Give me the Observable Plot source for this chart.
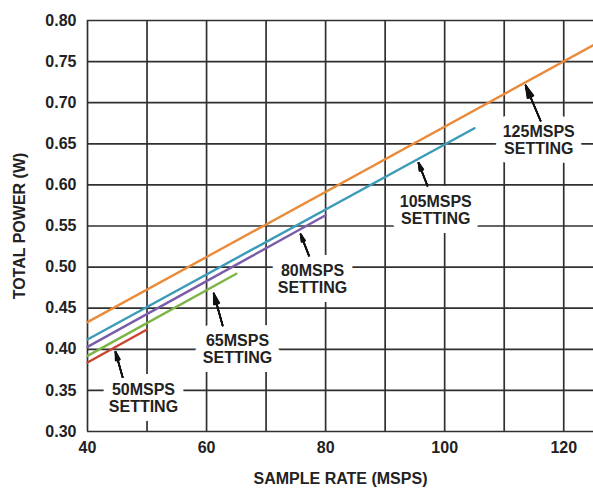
<!DOCTYPE html>
<html>
<head>
<meta charset="utf-8">
<script src="https://cdn.jsdelivr.net/npm/d3@7"></script>
<script src="https://cdn.jsdelivr.net/npm/@observablehq/plot@0.6"></script>
<style>
  html, body { margin: 0; padding: 0; background: #fff; }
  #chart { width: 593px; height: 489px; }
</style>
</head>
<body>
<div id="chart"></div>
<script>
// Series (sample rate in MSPS, total power in W)
const rate50 = [40, 50];
const power50 = [0.384, 0.424];
const rate65 = [40, 65];
const power65 = [0.392, 0.492];
const rate80 = [40, 80];
const power80 = [0.403, 0.563];
const rate105 = [40, 105];
const power105 = [0.412, 0.669];
const rate125 = [40, 125];
const power125 = [0.433, 0.770];

const settingNames = ["50MSPS", "65MSPS", "80MSPS", "105MSPS", "125MSPS"];
const settingColors = ["#c9432e", "#7db446", "#7a5da8", "#3b9bb8", "#e98b3a"];

// Annotation anchors (data units)
const labelX = [49.4, 65.2, 77.8, 98.5, 115.8];
const labelY = [0.341, 0.400, 0.485, 0.569, 0.654];
const arrowTailX = [45.9, 62.7, 77.2, 97.1, 116.1];
const arrowTailY = [0.366, 0.429, 0.514, 0.599, 0.678];
const arrowTipX = [44.7, 61.2, 75.8, 95.6, 113.6];
const arrowTipY = [0.397, 0.468, 0.540, 0.627, 0.721];

// Ticks
const xTickLabels = [40, 60, 80, 100, 120];
const xGrid = [40, 50, 60, 70, 80, 90, 100, 110, 120];
const yTicks = [0.30, 0.35, 0.40, 0.45, 0.50, 0.55, 0.60, 0.65, 0.70, 0.75, 0.80];

const rates = [rate50, rate65, rate80, rate105, rate125];
const powers = [power50, power65, power80, power105, power125];
const lineData = settingNames.flatMap((name, i) =>
  rates[i].map((r, j) => ({setting: name, rate: r, power: powers[i][j]})));

const notes = settingNames.map((name, i) => ({
  text: name + "\nSETTING",
  lx: labelX[i], ly: labelY[i],
  x1: arrowTailX[i], y1: arrowTailY[i], x2: arrowTipX[i], y2: arrowTipY[i]
}));

const font = "'Liberation Sans', Arial, Helvetica, sans-serif";
const gridColor = "#303030";

const arrowMarks = [6, 12, 18, 24, 30].map(a =>
  Plot.arrow(notes, {x1: "x1", y1: "y1", x2: "x2", y2: "y2",
    stroke: "#111", strokeWidth: 1.6, headAngle: a, headLength: 12}));

const textOpts = {x: "lx", y: "ly", text: "text", fontSize: 16, fontWeight: "bold",
  lineHeight: 1.05, textAnchor: "middle", lineAnchor: "middle"};

const chart = Plot.plot({
  width: 593,
  height: 489,
  marginLeft: 87,
  marginRight: 0,
  marginTop: 20,
  marginBottom: 58,
  style: {fontFamily: font, fontSize: "16px", fontWeight: "bold", color: "#222", background: "#fff", overflow: "visible"},
  x: {
    domain: [40, 125],
    ticks: xTickLabels,
    tickSize: 0,
    tickPadding: 10,
    label: "SAMPLE RATE (MSPS)",
    labelArrow: "none",
    labelAnchor: "center",
    labelOffset: 52
  },
  y: {
    domain: [0.30, 0.80],
    ticks: yTicks,
    tickFormat: d3.format(".2f"),
    tickSize: 0,
    tickPadding: 11,
    label: "TOTAL POWER (W)",
    labelArrow: "none",
    labelAnchor: "center",
    labelOffset: 74
  },
  color: {domain: settingNames, range: settingColors},
  marks: [
    Plot.ruleX(xGrid, {stroke: gridColor, strokeWidth: 1.7}),
    Plot.ruleY(yTicks, {stroke: gridColor, strokeWidth: 1.7}),
    Plot.line(lineData, {x: "rate", y: "power", z: "setting", stroke: "setting", strokeWidth: 2.4}),
    Plot.text(notes, {...textOpts, fill: "white", stroke: "white", strokeWidth: 18}),
    Plot.text(notes, {...textOpts, fill: "#222"}),
    ...arrowMarks
  ]
});

document.getElementById("chart").appendChild(chart);
</script>
</body>
</html>
